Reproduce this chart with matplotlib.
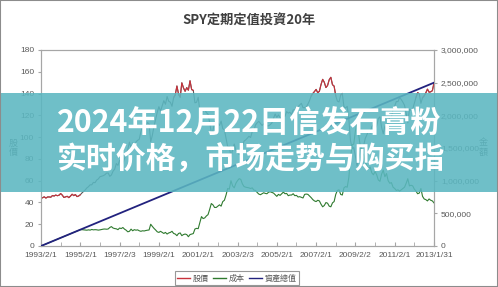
import numpy as np
import matplotlib
matplotlib.use('Agg')
import matplotlib.pyplot as plt
from matplotlib.lines import Line2D
from matplotlib.patches import Rectangle
from matplotlib.ticker import FuncFormatter, MultipleLocator

title = 'SPY定期定值投資20年'
x_labels = ['1993/2/1', '1995/2/1', '1997/2/3', '1999/2/1', '2001/2/1', '2003/2/3',
            '2005/2/1', '2007/2/1', '2009/2/2', '2011/2/1', '2013/1/31']
left_ticks = list(range(0, 181, 20))
right_ticks_k = list(range(0, 3001, 500))
legend_labels = ['股價', '成本', '資產總值']
left_label = '股\n價'
right_label = '金\n額'
banner_lines = ['2024年12月22日信发石膏粉', '实时价格，市场走势与购买指']

# monthly price (股價), left axis
price = [
    43.88, 44.34, 45.17, 44.02, 45.02, 45.05, 44.81, 46.36, 45.89, 46.78, 46.18, 46.65,
    48.16, 46.71, 44.58, 45.09, 45.65, 44.43, 45.83, 47.55, 46.27, 47.24, 45.37, 45.93,
    47.04, 48.74, 50.07, 51.47, 53.34, 54.48, 56.21, 56.19, 58.44, 58.15, 60.54, 61.59,
    63.60, 64.04, 64.55, 65.42, 66.91, 67.06, 63.99, 65.20, 68.73, 70.53, 75.70, 74.07,
    78.62, 79.08, 75.71, 80.13, 84.83, 88.51, 95.43, 89.95, 94.73, 91.46, 95.54, 97.04,
    98.03, 104.93, 110.18, 111.18, 109.08, 113.38, 112.07, 95.73, 101.70, 109.87, 116.36, 122.92,
    127.96, 123.83, 128.64, 133.52, 130.18, 137.27, 132.87, 132.04, 128.27, 136.29, 138.89, 146.93,
    139.45, 136.64, 149.86, 145.24, 142.06, 145.46, 143.08, 151.77, 143.65, 142.94, 131.50, 132.03,
    136.60, 123.99, 116.03, 124.95, 125.58, 122.44, 121.12, 113.36, 104.09, 105.98, 113.95, 114.81,
    113.02, 110.67, 114.74, 107.69, 106.71, 98.98, 91.16, 91.61, 81.53, 88.58, 93.63, 87.98,
    85.57, 84.12, 84.82, 91.69, 96.36, 97.45, 99.03, 100.80, 99.60, 105.07, 105.82, 111.19,
    113.11, 114.49, 112.62, 110.73, 112.07, 114.08, 110.17, 110.42, 111.46, 113.02, 117.38, 121.19,
    118.13, 120.36, 118.06, 115.69, 119.15, 119.13, 123.42, 122.03, 122.88, 120.70, 124.95, 124.83,
    128.01, 128.07, 129.49, 131.06, 127.01, 127.02, 127.67, 130.38, 133.59, 137.79, 140.06, 141.83,
    143.82, 140.68, 142.09, 148.24, 153.06, 150.34, 145.53, 147.40, 152.68, 154.94, 148.11, 146.84,
    137.86, 133.06, 132.27, 138.56, 140.04, 128.00, 126.74, 128.28, 116.64, 96.88, 89.62, 90.33,
    82.59, 73.51, 79.79, 87.28, 91.91, 91.93, 98.75, 102.06, 105.71, 103.62, 109.56, 111.51,
    107.39, 110.45, 116.94, 118.67, 108.94, 103.07, 110.16, 104.93, 114.12, 118.33, 118.06, 125.76,
    128.61, 132.72, 132.58, 136.36, 134.52, 132.06, 129.23, 121.89, 113.14, 125.33, 124.70, 125.76,
    131.24, 136.57, 140.85, 139.79, 131.03, 136.22, 137.93, 140.66, 144.07, 141.22, 141.62, 142.62,
    149.81,
]

# monthly cost (成本), thousands, right axis
cost_k = [
    0, 10, 21, 31, 42, 52, 62, 73, 83, 94, 104, 115, 125, 135, 146, 156, 166, 177, 187, 198,
    208, 218, 229, 239, 250,
    250, 247, 243, 242, 247, 243, 253, 247, 250, 248, 243, 247, 253, 258, 260, 257, 260, 283,
    297, 275, 267, 263, 250, 275, 267, 283, 258, 242, 217, 225, 258, 233, 250, 242, 247, 233,
    225, 233, 230, 237, 242, 245, 333, 300, 270, 245,
    217, 208, 225, 208, 192, 208, 183, 200, 208, 225, 192, 183, 158, 192, 200, 158, 175, 183,
    175, 142, 175, 183,
    190, 260, 270, 265, 360, 450, 420, 430, 460, 480, 560, 650, 630, 590, 590, 610, 630, 610,
    680, 700, 780, 880, 870, 1000, 920, 890, 960, 1000, 1030, 1020,
    950, 910, 900, 895, 890, 880, 890, 855, 850, 820, 795, 785, 800, 815, 805, 800, 825, 830,
    820, 810, 785, 760, 790, 775, 800, 825, 800, 805, 770, 780, 780, 800, 770, 775, 750, 755,
    745, 735, 790, 795, 790, 765, 740, 710, 690, 680, 700, 690, 640, 600, 620, 665, 655, 610,
    600, 660, 680, 790, 850, 860, 790, 780, 890, 910, 900, 1050, 1350, 1550, 1560, 1760, 1900,
    1700, 1520, 1420, 1400, 1280, 1230, 1180, 1210, 1120, 1090, 1140, 1090, 1010, 990, 1100,
    1160, 1060, 1110, 1000, 960, 970, 900, 880, 850, 860, 840, 860, 880, 900, 960, 1030, 920,
    930, 920, 870, 840, 800, 810, 880, 760, 720, 710, 690, 720, 700, 690, 660,
]

# total asset value (資產總值), thousands, read yearly
asset_idx = list(range(0, 241, 12))
asset_k = [0, 125, 250, 375, 500, 625, 750, 875, 1000, 1125, 1250, 1375, 1500, 1625,
           1750, 1875, 2000, 2125, 2250, 2375, 2500]

RED = '#c8323c'
GRAY = '#555a5a'
GREEN = '#2f7a2f'
NAVY = '#22227e'
TXT = '#595959'
CJK = ['Noto Sans CJK TC', 'DejaVu Sans']

fig = plt.figure(figsize=(4.98, 2.87), dpi=100)
fig.patch.set_facecolor('white')
ax = fig.add_axes([41 / 498, 41 / 287, 393 / 498, 196 / 287])
ax2 = ax.twinx()

xp = np.arange(len(price))
p = np.array(price)
ax.plot(xp, p, color=GRAY, lw=0.8, zorder=2)
red_mask = (p > 136) | (xp <= 24)
red_line = np.ma.masked_where(~red_mask, p)
ax.plot(xp, red_line, color=RED, lw=0.8, zorder=3)

xc = np.arange(len(cost_k))
ax2.plot(xc, cost_k, color=GREEN, lw=0.8, zorder=2)
ax2.plot(asset_idx, asset_k, color=NAVY, lw=1.3, zorder=3)

ax.set_xlim(0, 240)
ax.set_ylim(0, 180)
ax2.set_ylim(0, 3000)
ax.set_xticks(range(0, 241, 24))
ax.set_xticklabels(x_labels)
ax.xaxis.set_minor_locator(MultipleLocator(12))
ax.set_yticks(left_ticks)
ax2.set_yticks(right_ticks_k)
ax2.yaxis.set_major_formatter(FuncFormatter(lambda v, _: f'{int(v * 1000):,}'))

for a in (ax, ax2):
    for s in a.spines.values():
        s.set_color('#a6a6a6')
        s.set_linewidth(0.8)
ax.tick_params(axis='x', which='both', direction='in', length=3, color='#a6a6a6',
               labelsize=6, labelcolor=TXT, pad=4)
ax.tick_params(axis='y', direction='out', length=2, color='#a6a6a6',
               labelsize=6, labelcolor=TXT, pad=3)
ax2.tick_params(axis='y', direction='out', length=2, color='#a6a6a6',
                labelsize=6, labelcolor=TXT, pad=3)
for lab in ax.get_xticklabels() + ax.get_yticklabels() + ax2.get_yticklabels():
    lab.set_family('Liberation Sans')

fig.text(0.5, 1 - 20 / 287, title, ha='center', va='center', fontsize=9.5,
         fontweight='bold', color='#404040', family=CJK)
fig.text(13 / 498, 1 - 148 / 287, left_label, ha='center', va='center', fontsize=6.5,
         color=TXT, family=CJK, linespacing=1.1)
fig.text(483 / 498, 1 - 148 / 287, right_label, ha='center', va='center', fontsize=6.5,
         color=TXT, family=CJK, linespacing=1.1)

handles = [Line2D([], [], color=c, lw=1.0) for c in (RED, GREEN, NAVY)]
leg = fig.legend(handles, legend_labels, loc='center', bbox_to_anchor=(237 / 498, 1 - 278 / 287),
                 ncol=3, frameon=True, fancybox=False, edgecolor='#7f7f7f',
                 handlelength=1.6, handletextpad=0.3, columnspacing=0.6, borderpad=0.25,
                 prop={'family': CJK, 'size': 5.8})
for t in leg.get_texts():
    t.set_color(TXT)
leg.get_frame().set_linewidth(0.8)

fig.add_artist(Rectangle((0, 1 - 192 / 287), 1, 99 / 287, transform=fig.transFigure,
                         facecolor='#5bb7c1', alpha=0.88, edgecolor='none', zorder=10))
fig.text(57 / 498, 1 - 124 / 287, banner_lines[0], ha='left', va='center', fontsize=21.8,
         fontweight='bold', color='white', family=['Noto Sans CJK SC', 'DejaVu Sans'], zorder=11)
fig.text(57 / 498, 1 - 160 / 287, banner_lines[1], ha='left', va='center', fontsize=21.5,
         fontweight='bold', color='white', family=['Noto Sans CJK SC', 'DejaVu Sans'], zorder=11)

fig.add_artist(Rectangle((0, 0), 1, 1, transform=fig.transFigure, fill=False,
                         edgecolor='#8c8c8c', lw=1.5, zorder=20))

fig.savefig('out.png', dpi=100)
